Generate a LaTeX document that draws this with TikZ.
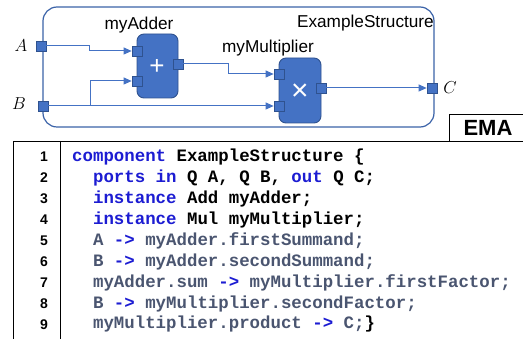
\documentclass[tikz,border=0pt]{standalone}
\usepackage{fontspec}
\setmainfont{Liberation Sans}
\newfontfamily\codefont{Liberation Mono}[FontFace={b}{n}{Liberation Mono Bold}]
\usetikzlibrary{arrows.meta}
\definecolor{blk}{HTML}{4472C4}
\definecolor{blkdark}{HTML}{2F528F}
\definecolor{kw}{HTML}{1C1CD2}
\definecolor{gr}{HTML}{4A5570}
\definecolor{frame}{HTML}{3A62A8}
\newcommand{\kwd}[1]{\textcolor{kw}{#1}}
\newcommand{\grt}[1]{\textcolor{gr}{#1}}
\begin{document}
\begin{tikzpicture}[x=1pt,y=-1pt,
  comp/.style={draw=blkdark,fill=blk,line width=0.9pt,rounded corners=7pt},
  port/.style={draw=blkdark,fill=blk,line width=0.7pt,minimum size=10pt,inner sep=0pt},
  conn/.style={draw=blk,line width=1pt,-{Triangle[length=8pt,width=7pt]}},
  lbl/.style={font=\fontsize{17.2}{17.2}\selectfont,inner sep=0pt},
  plbl/.style={font=\fontsize{17.5}{17.5}\selectfont,inner sep=0pt},
  ln/.style={font=\fontsize{14}{14}\selectfont\bfseries,anchor=base east,inner sep=0pt},
  code/.style={font=\fontsize{17.4}{17.4}\selectfont\codefont\bfseries,anchor=base west,inner sep=0pt}]
\useasboundingbox (0,0) rectangle (523,339);
% outer structure
\draw[frame,line width=1.2pt,rounded corners=14pt] (43,7) rectangle (434,127);
\node[lbl,anchor=east] (ttl) at (434,23) {ExampleStructure};
% components
\draw[comp] (137,34) rectangle (178,98);
\node[lbl] (addl) at (139,25) {myAdder};
\node[text=white,font=\fontsize{26}{26}\selectfont,inner sep=0pt] (plus) at (157,67) {+};
\draw[comp] (279,58) rectangle (321,123);
\node[lbl] (mull) at (268,48) {myMultiplier};
\node[text=white,font=\fontsize{30}{30}\selectfont,inner sep=0pt] (times) at (300,92) {×};
% ports
\node[port] (A) at (41,46) {};
\node[port] (B) at (43,106) {};
\node[port] (C) at (432,88) {};
\node[port] (a1) at (137,51) {};
\node[port] (a2) at (137,81) {};
\node[port] (as) at (178,64) {};
\node[port] (m1) at (279,74) {};
\node[port] (m2) at (279,106) {};
\node[port] (mp) at (321,88) {};
\node[plbl] (Al) at (21,46) {$A$};
\node[plbl] (Bl) at (19,104) {$B$};
\node[plbl] (Cl) at (450,88) {$C$};
% connectors
\draw[conn] (A.east) -| (89,51) -- (a1.west);
\draw[conn] (B.east) -- (90,106) |- (a2.west);
\draw[conn] (B.east) -- (m2.west);
\draw[conn] (as.east) -| (228,74) -- (m1.west);
\draw[conn] (mp.east) -- (C.west);
% EMA
\draw[line width=0.8pt] (449,141) |- (523,114);
\node[font=\fontsize{22}{22}\selectfont\bfseries,inner sep=0pt] (ema) at (488,128) {EMA};
% code frame
\draw[line width=0.8pt] (13,339) -- (13,141) -- (523,141);
\draw[line width=0.8pt] (60,141) -- (60,339);
\foreach \i in {1,...,9} {
  \node[ln] (n\i) at (48,{161.5+(\i-1)*20.94}) {\i};
}
\node[code] (c1) at (72,161.5) {\kwd{component} ExampleStructure \{};
\node[code] (c2) at (92.9,182.4) {\kwd{ports in} Q A, Q B, \kwd{out} Q C;};
\node[code] (c3) at (92.9,203.4) {\kwd{instance} Add myAdder;};
\node[code] (c4) at (92.9,224.3) {\kwd{instance} Mul myMultiplier;};
\node[code] (c5) at (92.9,245.3) {\grt{A} \kwd{->} \grt{myAdder.firstSummand;}};
\node[code] (c6) at (92.9,266.2) {\grt{B} \kwd{->} \grt{myAdder.secondSummand;}};
\node[code] (c7) at (92.9,287.1) {\grt{myAdder.sum} \kwd{->} \grt{myMultiplier.firstFactor;}};
\node[code] (c8) at (92.9,308.1) {\grt{B} \kwd{->} \grt{myMultiplier.secondFactor;}};
\node[code] (c9) at (92.9,329) {\grt{myMultiplier.product} \kwd{->} \grt{C;}\}};
\end{tikzpicture}
\end{document}
